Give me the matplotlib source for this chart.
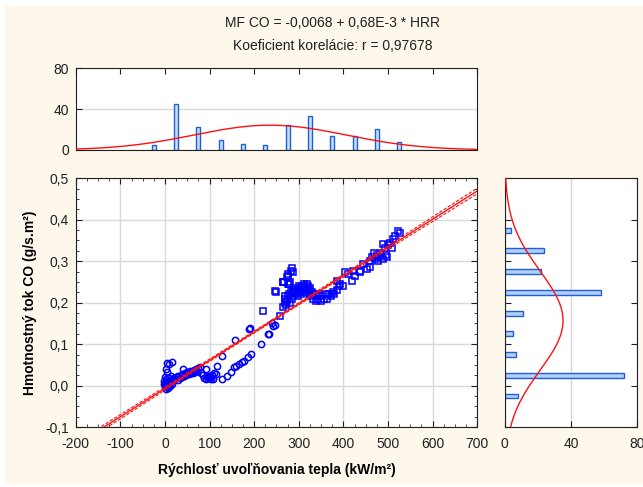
import numpy as np
import matplotlib.pyplot as plt
from matplotlib.patches import Rectangle
from matplotlib.ticker import MultipleLocator

# body points, low heat release rate (circles)
hrr_circles = [0, 2, 4, 5, 3, 7, 8, 10, 6, 1, 9, 12, 14, 11, 15, 2, -3, -2, 13, 16,
               18, 20, 22, 25, 28, 30, 33, 35, 38, 40, 43, 45, 48, 50, 53, 55, 58,
               60, 63, 65, 68, 70, 72, 75,
               5, 9, 16, 5, 40, 3,
               78, 91, 117, 95, 98, 100, 102, 96, 104, 105, 92, 85, 80, 88, 108,
               110, 115,
               128, 140, 147, 154, 160, 166, 172, 177, 185, 192,
               128, 156, 188, 190,
               216, 231, 234, 243, 240, 246]
co_circles = [0.0, 0.005, -0.003, 0.01, 0.015, 0.002, 0.008, 0.012, -0.006, 0.02,
              0.018, 0.005, 0.01, -0.002, 0.016, -0.008, 0.004, 0.012, 0.022, 0.003,
              0.012, 0.018, 0.015, 0.02, 0.014, 0.022, 0.018, 0.025, 0.02, 0.028,
              0.022, 0.03, 0.026, 0.032, 0.028, 0.035, 0.03, 0.034, 0.03, 0.038,
              0.033, 0.04, 0.036, 0.042,
              0.054, 0.052, 0.058, 0.034, 0.04, 0.04,
              0.044, 0.04, 0.048, 0.02, 0.018, 0.022, 0.016, 0.024, 0.02, 0.025,
              0.015, 0.025, 0.03, 0.018, 0.017, 0.03, 0.028,
              0.016, 0.024, 0.034, 0.044, 0.048, 0.052, 0.056, 0.06, 0.068, 0.076,
              0.072, 0.11, 0.136, 0.14,
              0.1, 0.124, 0.125, 0.144, 0.152, 0.145]

# high heat release rate (squares)
hrr_squares = [219, 246, 249, 258,
               264, 265, 267, 273, 275, 276, 276, 278, 280, 282, 284, 286,
               265, 268, 270, 272, 269, 274, 276, 278, 280, 282, 284, 286, 288,
               290, 292, 294, 296, 298, 300, 302, 304, 306, 308, 310, 312, 314,
               316, 318, 320, 322, 324, 326, 328, 330, 332, 335, 338, 340, 343,
               346, 350, 353, 356, 360, 364, 368, 372, 376, 380, 385, 390,
               392, 399, 386, 404, 410, 422,
               419, 426, 438, 445, 452, 460, 437,
               460, 465, 470, 475, 480, 485, 490, 495, 498, 468, 478,
               489, 493, 508, 505, 511, 523, 526, 515, 500]
co_squares = [0.181, 0.227, 0.226, 0.169,
              0.251, 0.251, 0.251, 0.261, 0.269, 0.265, 0.246, 0.246, 0.249,
              0.277, 0.284, 0.275,
              0.19, 0.2, 0.21, 0.195, 0.217, 0.205, 0.215, 0.22, 0.2, 0.225,
              0.21, 0.23, 0.215, 0.225, 0.235, 0.22, 0.23, 0.215, 0.24, 0.225,
              0.235, 0.22, 0.24, 0.23, 0.245, 0.225, 0.235, 0.245, 0.24, 0.23,
              0.22, 0.235, 0.215, 0.225, 0.21, 0.22, 0.205, 0.215, 0.21, 0.22,
              0.205, 0.215, 0.21, 0.22, 0.21, 0.22, 0.215, 0.225, 0.22, 0.23,
              0.24,
              0.246, 0.241, 0.253, 0.273, 0.269, 0.277,
              0.253, 0.265, 0.273, 0.293, 0.281, 0.285, 0.277,
              0.30, 0.31, 0.305, 0.315, 0.31, 0.32, 0.305, 0.315, 0.31, 0.32,
              0.30,
              0.342, 0.333, 0.332, 0.345, 0.354, 0.372, 0.369, 0.36, 0.34]

intercept = -0.0068
slope = 0.68e-3

# marginal histograms
hrr_bins = [-25, 25, 75, 125, 175, 225, 275, 325, 375, 425, 475, 525]
hrr_counts = [5, 45, 22, 10, 6, 5, 24, 33, 14, 14, 21, 8]
co_bins = [0.375, 0.325, 0.275, 0.225, 0.175, 0.125, 0.075, 0.025, -0.025]
co_counts = [4, 24, 22, 58, 11, 5, 7, 72, 8]

x_ticks = [-200, -100, 0, 100, 200, 300, 400, 500, 600, 700]
y_ticks = [-0.1, 0.0, 0.1, 0.2, 0.3, 0.4, 0.5]
y_tick_labels = ['-0,1', '0,0', '0,1', '0,2', '0,3', '0,4', '0,5']
hist_ticks = [0, 40, 80]

plt.rcParams['font.family'] = ['Liberation Sans', 'DejaVu Sans']
plt.rcParams['axes.unicode_minus'] = False
plt.rcParams['axes.edgecolor'] = '#202020'
plt.rcParams['xtick.color'] = '#202020'
plt.rcParams['ytick.color'] = '#202020'

fig = plt.figure(figsize=(6.43, 4.87), dpi=100)
fig.patch.set_facecolor('white')
fig.add_artist(Rectangle((0.008, 0.006), 0.992, 0.982, transform=fig.transFigure,
                         facecolor='#FDF8EB', edgecolor='none', zorder=-10))

ax = fig.add_axes([0.118, 0.123, 0.624, 0.511])
ax_top = fig.add_axes([0.118, 0.692, 0.624, 0.168])
ax_right = fig.add_axes([0.785, 0.123, 0.206, 0.511])

blue = '#0000FF'
red = '#FF1010'

# scatter
ax.plot(hrr_circles, co_circles, 'o', mfc='none', mec=blue, ms=4.5, mew=1.1, zorder=3)
ax.plot(hrr_squares, co_squares, 's', mfc='none', mec=blue, ms=4.5, mew=1.1, zorder=3)

# regression line with confidence band
x_all = np.array(hrr_circles + hrr_squares, dtype=float)
y_all = np.array(co_circles + co_squares, dtype=float)
n = len(x_all)
resid = y_all - (intercept + slope * x_all)
s = np.sqrt(np.sum(resid ** 2) / (n - 2))
sxx = np.sum((x_all - x_all.mean()) ** 2)
xl = np.linspace(-200, 700, 200)
yl = intercept + slope * xl
band = 0.9 * s * np.sqrt(1 / n + (xl - x_all.mean()) ** 2 / sxx)
ax.plot(xl, yl, color=red, lw=1, zorder=4)
ax.plot(xl, yl + band, color=red, lw=0.8, ls='--', dashes=(3, 1.5), zorder=4)
ax.plot(xl, yl - band, color=red, lw=0.8, ls='--', dashes=(3, 1.5), zorder=4)

ax.set_xlim(-200, 700)
ax.set_ylim(-0.1, 0.5)
ax.set_xticks(x_ticks)
ax.set_yticks(y_ticks)
ax.set_yticklabels(y_tick_labels)
ax.xaxis.set_minor_locator(MultipleLocator(25))
ax.yaxis.set_minor_locator(MultipleLocator(0.025))
ax.grid(True, color='#D9D9D9', lw=1)
ax.set_axisbelow(True)
ax.tick_params(which='both', direction='in', top=True, right=True, labelsize=10)
ax.tick_params(which='major', length=4)
ax.tick_params(which='minor', length=2)
ax.tick_params(axis='x', pad=7)
ax.tick_params(axis='y', pad=5)
ax.set_xlabel('Rýchlosť uvoľňovania tepla (kW/m²)', fontsize=10, fontweight='bold',
              labelpad=9)
ax.set_ylabel('Hmotnostný tok CO (g/s.m²)', fontsize=10, fontweight='bold', labelpad=6)

# top histogram
ax_top.bar(hrr_bins, hrr_counts, width=9, color='#C9DEF8', edgecolor='#1E5FD8',
           lw=1, zorder=2)
mu_x = np.average(hrr_bins, weights=hrr_counts)
sd_x = np.sqrt(np.average((np.array(hrr_bins) - mu_x) ** 2, weights=hrr_counts))
xc = np.linspace(-200, 700, 300)
ax_top.plot(xc, sum(hrr_counts) * 50 * np.exp(-0.5 * ((xc - mu_x) / sd_x) ** 2)
            / (sd_x * np.sqrt(2 * np.pi)), color=red, lw=1, zorder=3)
ax_top.set_xlim(-200, 700)
ax_top.set_ylim(0, 80)
ax_top.set_xticks(x_ticks)
ax_top.set_xticklabels([])
ax_top.set_yticks(hist_ticks)
ax_top.grid(True, axis='y', color='#D9D9D9', lw=1)
ax_top.set_axisbelow(True)
ax_top.tick_params(direction='in', top=True, bottom=False, length=4, labelsize=10)
ax_top.tick_params(axis='y', pad=5)

# right histogram
ax_right.barh(co_bins, co_counts, height=0.012, color='#B3CFF5', edgecolor='#1E5FD8',
              lw=1, zorder=2)
mu_y = np.average(co_bins, weights=co_counts)
sd_y = np.sqrt(np.average((np.array(co_bins) - mu_y) ** 2, weights=co_counts))
yc = np.linspace(-0.1, 0.5, 300)
ax_right.plot(sum(co_counts) * 0.05 * np.exp(-0.5 * ((yc - mu_y) / sd_y) ** 2)
              / (sd_y * np.sqrt(2 * np.pi)), yc, color=red, lw=1, zorder=3)
ax_right.set_xlim(0, 80)
ax_right.set_ylim(-0.1, 0.5)
ax_right.set_xticks(hist_ticks)
ax_right.set_yticks(y_ticks)
ax_right.set_yticklabels([])
ax_right.grid(True, axis='x', color='#D9D9D9', lw=1)
ax_right.set_axisbelow(True)
ax_right.tick_params(direction='in', right=True, length=4, labelsize=10, pad=7)

fig.text(0.517, 0.952, 'MF CO = -0,0068 + 0,68E-3 * HRR', ha='center', va='center',
         fontsize=10, color='#202020')
fig.text(0.517, 0.905, 'Koeficient korelácie: r = 0,97678', ha='center', va='center',
         fontsize=10, color='#202020')

fig.savefig('out.png', dpi=100)
